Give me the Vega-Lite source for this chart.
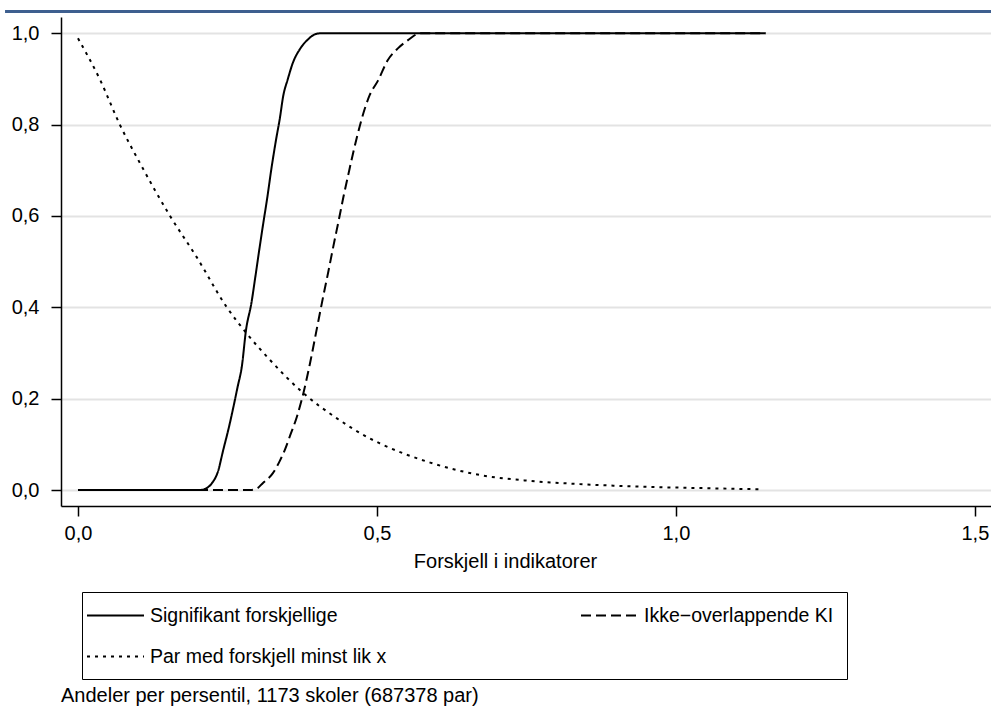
{
  "$schema": "https://vega.github.io/schema/vega-lite/v6.json",
  "width": 930,
  "height": 489,
  "autosize": {"type": "none"},
  "padding": {"left": 61, "top": 17, "right": 0, "bottom": 200},
  "config": {
    "font": "Liberation Sans",
    "view": {"stroke": null},
    "axis": {
      "labelFontSize": 20,
      "labelColor": "#000",
      "titleFontSize": 20,
      "titleFontWeight": "normal",
      "titleColor": "#000",
      "domainColor": "#000",
      "domainWidth": 1.5,
      "tickColor": "#000",
      "tickWidth": 1.5,
      "tickSize": 10
    }
  },
  "title": {
    "text": "Andeler per persentil, 1173 skoler (687378 par)",
    "orient": "bottom",
    "anchor": "start",
    "frame": "group",
    "fontSize": 20,
    "fontWeight": "normal",
    "color": "#000",
    "offset": 6
  },
  "layer": [
    {
      "data": {"values": [{"k": 1}]},
      "mark": {"type": "rule", "color": "#3e5f8f", "strokeWidth": 3},
      "encoding": {
        "x": {"datum": -0.122, "type": "quantitative", "title": "Forskjell i indikatorer"},
        "x2": {"datum": 1.527},
        "y": {"datum": 1.048, "type": "quantitative", "title": null}
      }
    },
    {
      "data": {
        "values": [
          {"series": "Signifikant forskjellige", "x": 0, "y": 0},
          {"series": "Signifikant forskjellige", "x": 0.1, "y": 0},
          {"series": "Signifikant forskjellige", "x": 0.204, "y": 0},
          {"series": "Signifikant forskjellige", "x": 0.215, "y": 0.004},
          {"series": "Signifikant forskjellige", "x": 0.224, "y": 0.015},
          {"series": "Signifikant forskjellige", "x": 0.234, "y": 0.04},
          {"series": "Signifikant forskjellige", "x": 0.243, "y": 0.088},
          {"series": "Signifikant forskjellige", "x": 0.252, "y": 0.135},
          {"series": "Signifikant forskjellige", "x": 0.26, "y": 0.182},
          {"series": "Signifikant forskjellige", "x": 0.267, "y": 0.226},
          {"series": "Signifikant forskjellige", "x": 0.274, "y": 0.27},
          {"series": "Signifikant forskjellige", "x": 0.281, "y": 0.35},
          {"series": "Signifikant forskjellige", "x": 0.29, "y": 0.409},
          {"series": "Signifikant forskjellige", "x": 0.297, "y": 0.47},
          {"series": "Signifikant forskjellige", "x": 0.304, "y": 0.533},
          {"series": "Signifikant forskjellige", "x": 0.31, "y": 0.585},
          {"series": "Signifikant forskjellige", "x": 0.316, "y": 0.635},
          {"series": "Signifikant forskjellige", "x": 0.324, "y": 0.708},
          {"series": "Signifikant forskjellige", "x": 0.331, "y": 0.765},
          {"series": "Signifikant forskjellige", "x": 0.338, "y": 0.817},
          {"series": "Signifikant forskjellige", "x": 0.343, "y": 0.861},
          {"series": "Signifikant forskjellige", "x": 0.351, "y": 0.9},
          {"series": "Signifikant forskjellige", "x": 0.359, "y": 0.934},
          {"series": "Signifikant forskjellige", "x": 0.372, "y": 0.967},
          {"series": "Signifikant forskjellige", "x": 0.385, "y": 0.987},
          {"series": "Signifikant forskjellige", "x": 0.395, "y": 0.997},
          {"series": "Signifikant forskjellige", "x": 0.405, "y": 1.0},
          {"series": "Signifikant forskjellige", "x": 0.6, "y": 1.0},
          {"series": "Signifikant forskjellige", "x": 0.8, "y": 1.0},
          {"series": "Signifikant forskjellige", "x": 1.0, "y": 1.0},
          {"series": "Signifikant forskjellige", "x": 1.15, "y": 1.0},
          {"series": "Ikke−overlappende KI", "x": 0, "y": 0},
          {"series": "Ikke−overlappende KI", "x": 0.15, "y": 0},
          {"series": "Ikke−overlappende KI", "x": 0.288, "y": 0},
          {"series": "Ikke−overlappende KI", "x": 0.3, "y": 0.004},
          {"series": "Ikke−overlappende KI", "x": 0.309, "y": 0.015},
          {"series": "Ikke−overlappende KI", "x": 0.326, "y": 0.037},
          {"series": "Ikke−overlappende KI", "x": 0.338, "y": 0.065},
          {"series": "Ikke−overlappende KI", "x": 0.346, "y": 0.088},
          {"series": "Ikke−overlappende KI", "x": 0.355, "y": 0.12},
          {"series": "Ikke−overlappende KI", "x": 0.366, "y": 0.16},
          {"series": "Ikke−overlappende KI", "x": 0.377, "y": 0.212},
          {"series": "Ikke−overlappende KI", "x": 0.388, "y": 0.277},
          {"series": "Ikke−overlappende KI", "x": 0.399, "y": 0.35},
          {"series": "Ikke−overlappende KI", "x": 0.41, "y": 0.423},
          {"series": "Ikke−overlappende KI", "x": 0.419, "y": 0.48},
          {"series": "Ikke−overlappende KI", "x": 0.427, "y": 0.533},
          {"series": "Ikke−overlappende KI", "x": 0.436, "y": 0.59},
          {"series": "Ikke−overlappende KI", "x": 0.444, "y": 0.642},
          {"series": "Ikke−overlappende KI", "x": 0.452, "y": 0.69},
          {"series": "Ikke−overlappende KI", "x": 0.46, "y": 0.737},
          {"series": "Ikke−overlappende KI", "x": 0.467, "y": 0.775},
          {"series": "Ikke−overlappende KI", "x": 0.474, "y": 0.81},
          {"series": "Ikke−overlappende KI", "x": 0.488, "y": 0.865},
          {"series": "Ikke−overlappende KI", "x": 0.502, "y": 0.897},
          {"series": "Ikke−overlappende KI", "x": 0.518, "y": 0.941},
          {"series": "Ikke−overlappende KI", "x": 0.535, "y": 0.967},
          {"series": "Ikke−overlappende KI", "x": 0.552, "y": 0.985},
          {"series": "Ikke−overlappende KI", "x": 0.572, "y": 1.0},
          {"series": "Ikke−overlappende KI", "x": 0.8, "y": 1.0},
          {"series": "Ikke−overlappende KI", "x": 1.15, "y": 1.0},
          {"series": "Par med forskjell minst lik x", "x": 0, "y": 0.989},
          {"series": "Par med forskjell minst lik x", "x": 0.037, "y": 0.898},
          {"series": "Par med forskjell minst lik x", "x": 0.07, "y": 0.8},
          {"series": "Par med forskjell minst lik x", "x": 0.104, "y": 0.715},
          {"series": "Par med forskjell minst lik x", "x": 0.154, "y": 0.6},
          {"series": "Par med forskjell minst lik x", "x": 0.198, "y": 0.511},
          {"series": "Par med forskjell minst lik x", "x": 0.249, "y": 0.4},
          {"series": "Par med forskjell minst lik x", "x": 0.282, "y": 0.343},
          {"series": "Par med forskjell minst lik x", "x": 0.321, "y": 0.285},
          {"series": "Par med forskjell minst lik x", "x": 0.377, "y": 0.212},
          {"series": "Par med forskjell minst lik x", "x": 0.433, "y": 0.157},
          {"series": "Par med forskjell minst lik x", "x": 0.488, "y": 0.113},
          {"series": "Par med forskjell minst lik x", "x": 0.505, "y": 0.102},
          {"series": "Par med forskjell minst lik x", "x": 0.589, "y": 0.06},
          {"series": "Par med forskjell minst lik x", "x": 0.672, "y": 0.033},
          {"series": "Par med forskjell minst lik x", "x": 0.756, "y": 0.02},
          {"series": "Par med forskjell minst lik x", "x": 0.839, "y": 0.013},
          {"series": "Par med forskjell minst lik x", "x": 0.951, "y": 0.007},
          {"series": "Par med forskjell minst lik x", "x": 1.05, "y": 0.004},
          {"series": "Par med forskjell minst lik x", "x": 1.143, "y": 0.0015}
        ]
      },
      "mark": {"type": "line", "color": "#000", "strokeWidth": 2, "interpolate": "monotone"},
      "encoding": {
        "x": {
          "field": "x",
          "type": "quantitative",
          "title": "Forskjell i indikatorer",
          "scale": {"domain": [-0.0284, 1.527], "nice": false, "zero": false},
          "axis": {
            "values": [0, 0.5, 1, 1.5],
            "grid": false,
            "labelExpr": "replace(format(datum.value, '.1f'), '.', ',')",
            "labelPadding": 7,
            "titlePadding": 8,
            "titleX": 444
          }
        },
        "y": {
          "field": "y",
          "type": "quantitative",
          "title": null,
          "scale": {"domain": [-0.035, 1.0357], "nice": false, "zero": false},
          "axis": {
            "values": [0, 0.2, 0.4, 0.6, 0.8, 1.0],
            "grid": true,
            "gridColor": "#e3e3e3",
            "gridWidth": 2,
            "labelPadding": 12,
            "labelExpr": "replace(format(datum.value, '.1f'), '.', ',')"
          }
        },
        "strokeDash": {
          "field": "series",
          "type": "nominal",
          "scale": {
            "domain": ["Signifikant forskjellige", "Ikke−overlappende KI", "Par med forskjell minst lik x"],
            "range": [[1, 0], [10, 5], [3, 5]]
          },
          "legend": {
            "orient": "none",
            "legendX": 21,
            "legendY": 575,
            "direction": "horizontal",
            "columns": 2,
            "gridAlign": "all",
            "title": null,
            "symbolType": "M-3,0H3",
            "symbolSize": 361,
            "symbolOffset": 10,
            "symbolStrokeWidth": 2,
            "symbolStrokeColor": "#000",
            "labelFontSize": 19.5,
            "labelColor": "#000",
            "labelLimit": 400,
            "labelOffset": 24,
            "columnPadding": 190,
            "rowPadding": 21,
            "padding": 13,
            "strokeColor": "#000"
          }
        }
      }
    }
  ]
}
